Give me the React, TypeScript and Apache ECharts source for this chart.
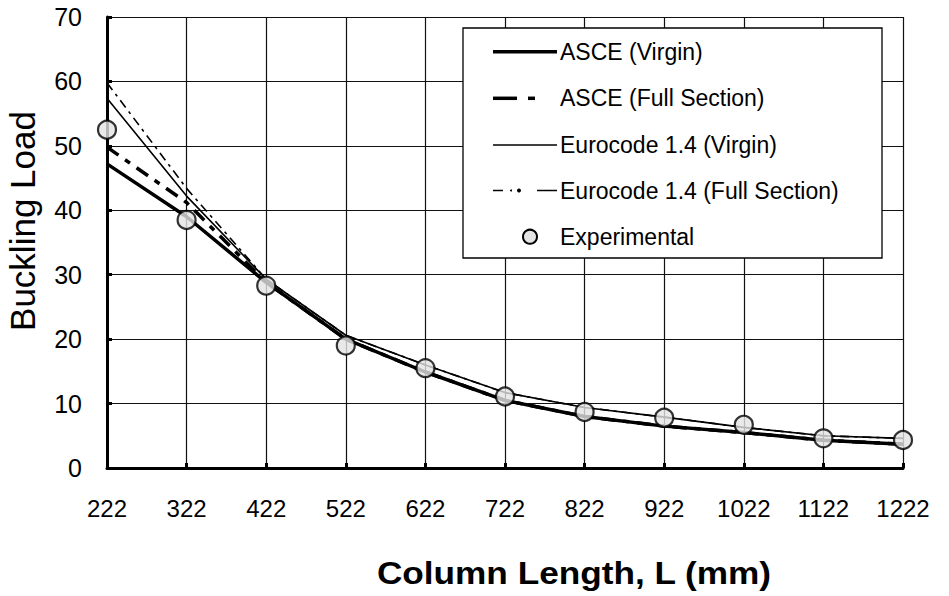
import React, { useEffect, useRef } from "react";
import * as echarts from "echarts";

const lengths = ["222", "322", "422", "522", "622", "722", "822", "922", "1022", "1122", "1222"];
const asceVirgin = [47.2, 39.0, 28.8, 20.0, 14.9, 10.5, 8.0, 6.5, 5.5, 4.3, 3.7];
const asceFull = [49.8, 41.2, 28.8, 20.0, 14.9, 10.5, 8.0, 6.5, 5.5, 4.3, 3.7];
const euroVirgin = [57.4, 42.2, 29.3, 20.6, 16.0, 11.7, 9.4, 7.9, 6.3, 5.0, 4.6];
const euroFull = [59.8, 43.4, 29.3, 20.6, 16.0, 11.7, 9.4, 7.9, 6.3, 5.0, 4.6];
const experimental = [52.5, 38.5, 28.3, 19.0, 15.5, 11.1, 8.7, 7.8, 6.7, 4.6, 4.35];
const seriesNames = [
  "ASCE (Virgin)",
  "ASCE (Full Section)",
  "Eurocode 1.4 (Virgin)",
  "Eurocode 1.4 (Full Section)",
  "Experimental",
];

const FONT = "'Liberation Sans', Arial, Helvetica, sans-serif";
const MARKER_FILL = "#e4e4e4";

function buildLegend() {
  const boxX = 463;
  const boxY = 28;
  const rowY = [51.7, 98.3, 145, 190.5, 236.7];
  const x0 = 493;
  const x1 = 557;
  const textX = 560;
  const Z = 100;
  const els: any[] = [
    {
      type: "rect",
      z: Z,
      shape: { x: boxX, y: boxY, width: 419, height: 230 },
      style: { fill: "#fff", stroke: "#000", lineWidth: 1.3 },
    },
  ];
  // row 1: thick solid
  els.push({
    type: "line",
    z: Z + 1,
    shape: { x1: x0, y1: rowY[0], x2: x1, y2: rowY[0] },
    style: { stroke: "#000", lineWidth: 3.5 },
  });
  // row 2: thick dashed (long + short)
  els.push({
    type: "line",
    z: Z + 1,
    shape: { x1: x0, y1: rowY[1], x2: 517, y2: rowY[1] },
    style: { stroke: "#000", lineWidth: 3.5 },
  });
  els.push({
    type: "line",
    z: Z + 1,
    shape: { x1: 528, y1: rowY[1], x2: 535, y2: rowY[1] },
    style: { stroke: "#000", lineWidth: 3.5 },
  });
  // row 3: thin solid
  els.push({
    type: "line",
    z: Z + 1,
    shape: { x1: x0, y1: rowY[2], x2: x1, y2: rowY[2] },
    style: { stroke: "#000", lineWidth: 1.5 },
  });
  // row 4: dash dot dash
  els.push({
    type: "line",
    z: Z + 1,
    shape: { x1: x0, y1: rowY[3], x2: 503, y2: rowY[3] },
    style: { stroke: "#000", lineWidth: 1.5 },
  });
  els.push({
    type: "circle",
    z: Z + 1,
    shape: { cx: 511, cy: rowY[3], r: 1 },
    style: { fill: "#000" },
  });
  els.push({
    type: "circle",
    z: Z + 1,
    shape: { cx: 519, cy: rowY[3], r: 2 },
    style: { fill: "#000" },
  });
  els.push({
    type: "line",
    z: Z + 1,
    shape: { x1: 537, y1: rowY[3], x2: x1, y2: rowY[3] },
    style: { stroke: "#000", lineWidth: 1.5 },
  });
  // row 5: marker
  els.push({
    type: "circle",
    z: Z + 1,
    shape: { cx: 530, cy: rowY[4], r: 7 },
    style: { fill: MARKER_FILL, stroke: "#000", lineWidth: 2 },
  });
  seriesNames.forEach((name, i) => {
    els.push({
      type: "text",
      z: Z + 2,
      x: textX,
      y: rowY[i],
      style: {
        text: name,
        font: `23px ${FONT}`,
        fill: "#000",
        textAlign: "left",
        textVerticalAlign: "middle",
      },
    });
  });
  return els;
}

export default function App() {
  const ref = useRef<HTMLDivElement>(null);
  useEffect(() => {
    document.body.style.margin = "0";
    if (!ref.current) return;
    const chart = echarts.init(ref.current, null, { renderer: "svg" });
    chart.setOption({
      animation: false,
      backgroundColor: "#ffffff",
      textStyle: { fontFamily: FONT, color: "#000" },
      grid: { left: 107, right: 46, top: 17, bottom: 128, outerBoundsMode: "none" },
      xAxis: {
        type: "category",
        data: lengths,
        boundaryGap: false,
        axisLine: { show: true, lineStyle: { color: "#000", width: 3 } },
        axisTick: { show: true, inside: true, length: 5, lineStyle: { color: "#000", width: 3 } },
        axisLabel: { fontFamily: FONT, fontSize: 24, color: "#000", margin: 28 },
        splitLine: { show: true, lineStyle: { color: "#111", width: 1.2 } },
      },
      yAxis: {
        type: "value",
        min: 0,
        max: 70,
        interval: 10,
        axisLine: { show: true, lineStyle: { color: "#000", width: 3 } },
        axisTick: { show: true, inside: true, length: 5, lineStyle: { color: "#000", width: 3 } },
        axisLabel: { fontFamily: FONT, fontSize: 25, color: "#000", margin: 25 },
        splitLine: { show: true, lineStyle: { color: "#111", width: 1.2 } },
      },
      graphic: [
        {
          type: "text",
          x: 22,
          y: 221,
          rotation: Math.PI / 2,
          style: {
            text: "Buckling Load",
            font: `35px ${FONT}`,
            fill: "#000",
            textAlign: "center",
            textVerticalAlign: "middle",
          },
        },
        {
          type: "text",
          x: 574,
          y: 573,
          scaleX: 1.1,
          style: {
            text: "Column Length, L (mm)",
            font: `bold 32px ${FONT}`,
            fill: "#000",
            textAlign: "center",
            textVerticalAlign: "middle",
          },
        },
        ...buildLegend(),
      ],
      series: [
        {
          name: seriesNames[0],
          type: "line",
          data: asceVirgin,
          symbol: "none",
          lineStyle: { color: "#000", width: 3.5, type: "solid" },
          itemStyle: { color: "#000" },
          z: 2,
        },
        {
          name: seriesNames[1],
          type: "line",
          data: asceFull,
          symbol: "none",
          lineStyle: { color: "#000", width: 3.5, type: [14, 8, 6, 8] },
          itemStyle: { color: "#000" },
          z: 2,
        },
        {
          name: seriesNames[2],
          type: "line",
          data: euroVirgin,
          symbol: "none",
          lineStyle: { color: "#000", width: 1.6, type: "solid" },
          itemStyle: { color: "#000" },
          z: 3,
        },
        {
          name: seriesNames[3],
          type: "line",
          data: euroFull,
          symbol: "none",
          lineStyle: { color: "#000", width: 1.6, type: [9, 5, 3, 5] },
          itemStyle: { color: "#000" },
          z: 3,
        },
        {
          name: seriesNames[4],
          type: "scatter",
          data: experimental,
          symbol: "circle",
          symbolSize: 18,
          itemStyle: { color: MARKER_FILL, borderColor: "#000", borderWidth: 2.2 },
          z: 5,
        },
      ],
    });
    return () => chart.dispose();
  }, []);
  return <div ref={ref} style={{ width: 949, height: 596 }} />;
}
